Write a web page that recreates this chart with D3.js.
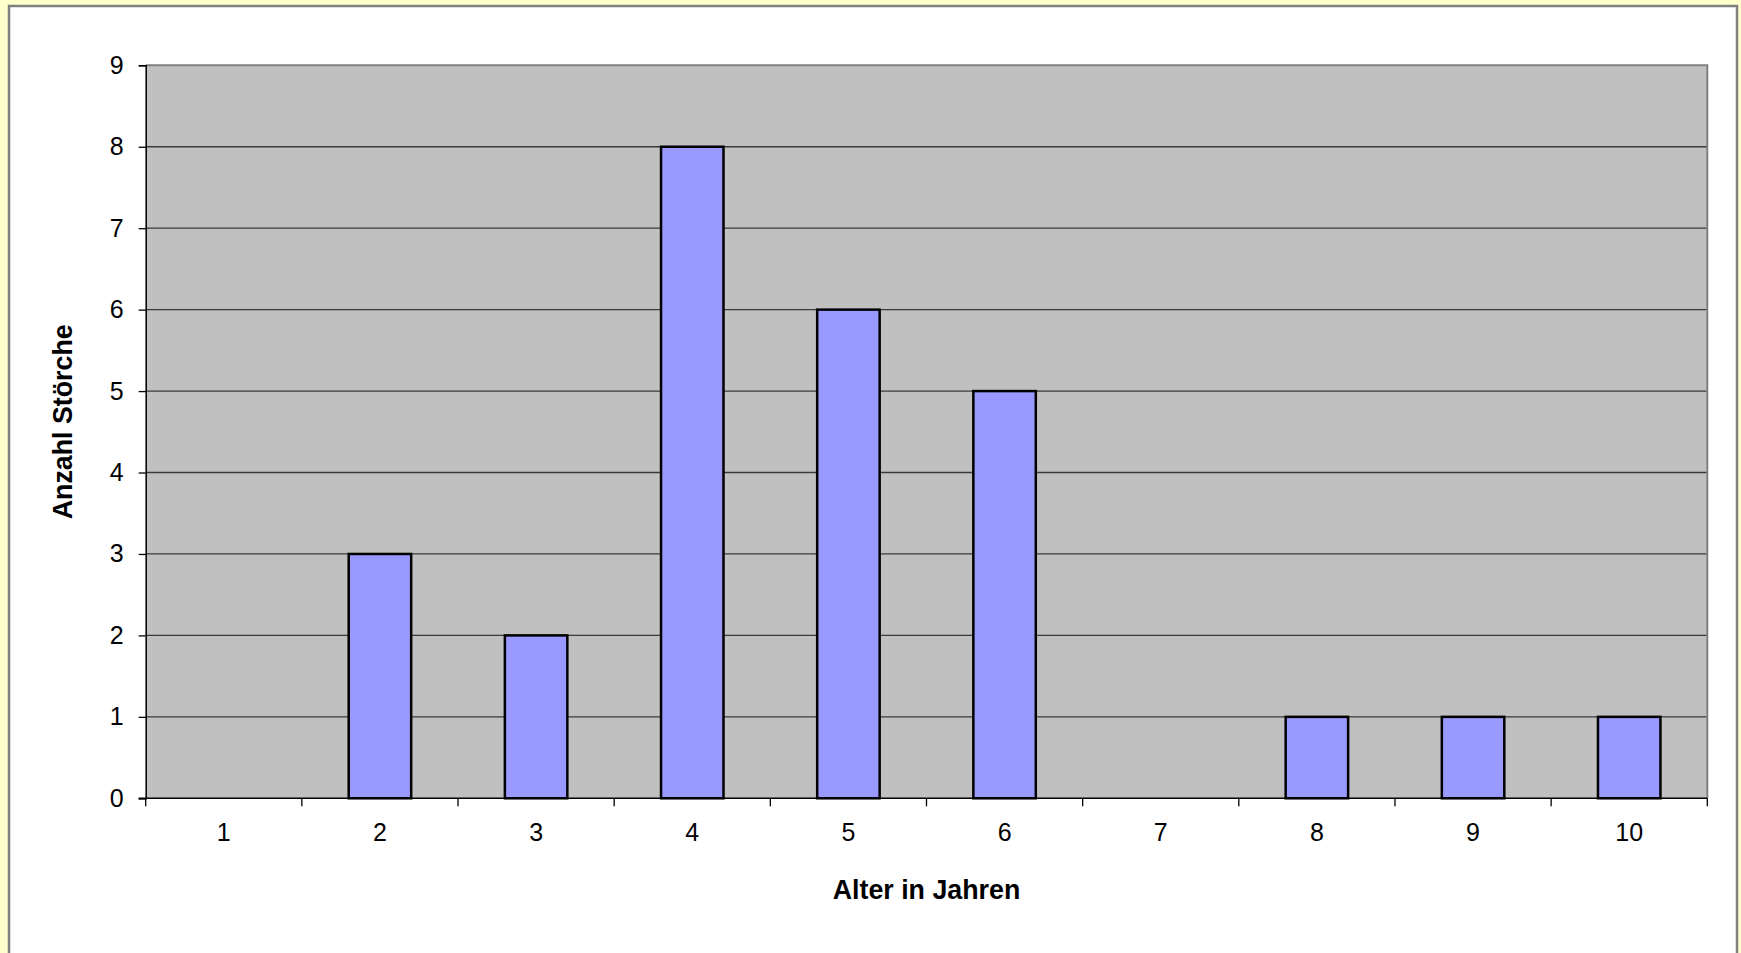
<!DOCTYPE html>
<html><head><meta charset="utf-8">
<script src="https://cdn.jsdelivr.net/npm/d3@7"></script>
<style>html,body{margin:0;padding:0;background:#FFFFCC;overflow:hidden}</style>
</head><body>
<script>
const categories = ["1","2","3","4","5","6","7","8","9","10"];
const values = [0,3,2,8,6,5,0,1,1,1];
const yTicks = [0,1,2,3,4,5,6,7,8,9];
const xTitle = "Alter in Jahren";
const yTitle = "Anzahl Störche";

const W = 1741, H = 953;
const svg = d3.select("body").append("svg").attr("width", W).attr("height", H);
svg.append("rect").attr("x",0).attr("y",0).attr("width",W).attr("height",H).attr("fill","#FFFFCC");
svg.append("rect").attr("x",9).attr("y",6).attr("width",1728).attr("height",H+20)
  .attr("fill","#fff").attr("stroke","#808080").attr("stroke-width",2.5);

const L = 145.7, R = 1707.3, T = 65.3, B = 798.3;
const x = d3.scaleBand().domain(categories).range([L,R]).paddingInner(0.6).paddingOuter(0.3);
const xb = d3.scaleBand().domain(categories).range([L,R]);
const y = d3.scaleLinear().domain([0,9]).range([B,T]);
const font = "Liberation Sans, Arial, sans-serif";

svg.append("rect").attr("x",L).attr("y",T).attr("width",R-L).attr("height",B-T).attr("fill","#C0C0C0");
svg.append("g").selectAll("line").data(yTicks.filter(d=>d>0&&d<9)).join("line")
  .attr("x1",L).attr("x2",R).attr("y1",d=>y(d)).attr("y2",d=>y(d))
  .attr("stroke","#3a3a3a").attr("stroke-width",1.3);
svg.append("path").attr("d",`M${L},${T}H${R}V${B}`).attr("fill","none").attr("stroke","#808080").attr("stroke-width",2);

svg.append("g").selectAll("rect").data(categories.map((c,i)=>({c,v:values[i]})).filter(d=>d.v>0)).join("rect")
  .attr("x",d=>x(d.c)).attr("width",x.bandwidth())
  .attr("y",d=>y(d.v)).attr("height",d=>y(0)-y(d.v))
  .attr("fill","#9999FF").attr("stroke","#000").attr("stroke-width",2.5);

const yAxis = d3.axisLeft(y).tickValues(yTicks).tickSize(7).tickPadding(15).tickFormat(d3.format("d"));
const gy = svg.append("g").attr("transform",`translate(${L},0)`).call(yAxis);
gy.select(".domain").attr("stroke","#000").attr("stroke-width",1.5);
gy.selectAll(".tick line").attr("stroke","#000").attr("stroke-width",1.3);
gy.selectAll("text").attr("font-family",font).attr("font-size",25).attr("fill","#000");

const xAxis = d3.axisBottom(xb).tickSize(0).tickPadding(25);
const gx = svg.append("g").attr("transform",`translate(0,${B})`).call(xAxis);
gx.select(".domain").remove();
gx.selectAll("text").attr("font-family",font).attr("font-size",25).attr("fill","#000");
svg.append("line").attr("x1",L-7).attr("x2",R).attr("y1",B).attr("y2",B).attr("stroke","#000").attr("stroke-width",1.5);
const bounds = categories.map(c=>xb(c)).concat([R]);
svg.append("g").selectAll("line").data(bounds).join("line")
  .attr("x1",d=>d).attr("x2",d=>d).attr("y1",B).attr("y2",B+8).attr("stroke","#000").attr("stroke-width",1.3);

svg.append("text").attr("x",(L+R)/2).attr("y",899).attr("text-anchor","middle")
  .attr("font-family",font).attr("font-weight","bold").attr("font-size",26.8).text(xTitle);
svg.append("text").attr("transform",`translate(72,${(T+B)/2-10}) rotate(-90)`).attr("text-anchor","middle")
  .attr("font-family",font).attr("font-weight","bold").attr("font-size",26.8).text(yTitle);
</script>
</body></html>
